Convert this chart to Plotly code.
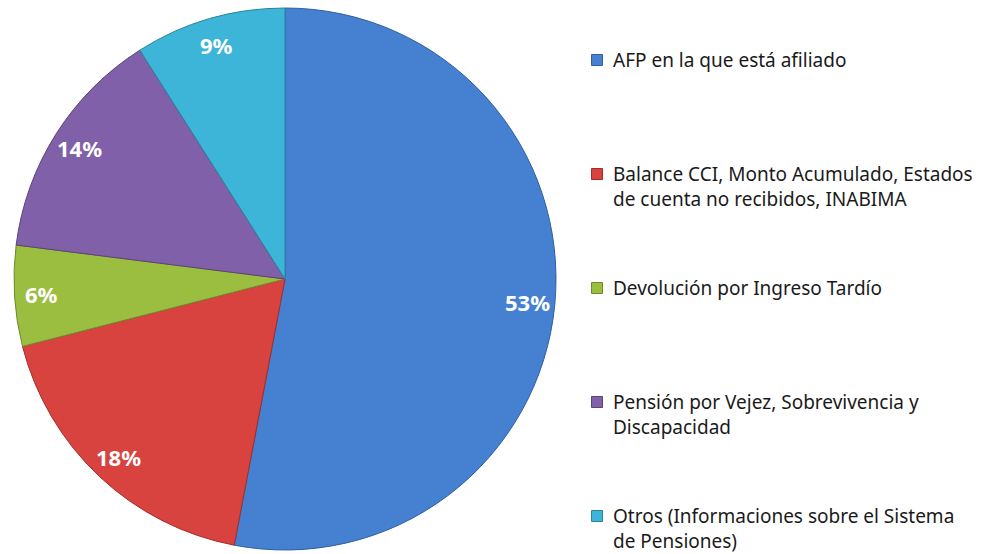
import plotly.graph_objects as go
import math

labels = ["AFP en la que está afiliado",
          "Balance CCI, Monto Acumulado, Estados<br>de cuenta no recibidos, INABIMA",
          "Devolución por Ingreso Tardío",
          "Pensión por Vejez, Sobrevivencia y<br>Discapacidad",
          "Otros (Informaciones sobre el Sistema<br>de Pensiones)"]
values = [53, 18, 6, 14, 9]
colors = ["#4581D0", "#D8433F", "#9BBE41", "#8060A8", "#3CB5D8"]
edge_colors = ["#2F5F9E", "#A02E2B", "#6F8A2C", "#5B4279", "#2A8399"]

W, H = 984, 554
# pie domain in pixels
dx0, dx1, dy0, dy1 = 13, 557, 8, 550
cx, cy = (dx0 + dx1) / 2, (dy0 + dy1) / 2
R = min(dx1 - dx0, dy1 - dy0) / 2

fig = go.Figure()
fig.add_trace(go.Pie(
    labels=labels, values=values, sort=False, direction="clockwise", rotation=0,
    marker=dict(colors=colors, line=dict(color=edge_colors, width=1)),
    textinfo="none", hoverinfo="label+percent", showlegend=False,
    domain=dict(x=[dx0 / W, dx1 / W], y=[1 - dy1 / H, 1 - dy0 / H]),
))

annotations = []
total = sum(values)
cum = 0
for v in values:
    mid = (cum + v / 2) / total * 2 * math.pi
    cum += v
    r = 0.9 * R
    px = cx + r * math.sin(mid)
    py = cy - r * math.cos(mid)
    annotations.append(dict(
        x=px / W, y=1 - py / H, xref="paper", yref="paper", showarrow=False,
        text=f"{round(v / total * 100)}%",
        font=dict(family="Noto Sans", size=22, color="white", weight="bold"),
        xanchor="center", yanchor="middle"))

# legend built from labels
shapes = []
y0, step, lh = 60, 114, 25
for i, (lab, col, ec) in enumerate(zip(labels, colors, edge_colors)):
    yy = y0 + i * step
    s = 11
    shapes.append(dict(type="rect", xref="paper", yref="paper",
                       x0=(597 - s / 2) / W, x1=(597 + s / 2) / W,
                       y0=1 - (yy + s / 2) / H, y1=1 - (yy - s / 2) / H,
                       fillcolor=col, line=dict(color=ec, width=1)))
    for j, line in enumerate(lab.split("<br>")):
        annotations.append(dict(
            x=611 / W, y=1 - (yy + j * lh) / H, xref="paper", yref="paper",
            showarrow=False, text=line, xanchor="left", yanchor="middle",
            font=dict(family="Noto Sans", size=19, color="#1a1a1a")))

fig.update_layout(
    width=W, height=H, margin=dict(l=0, r=0, t=0, b=0),
    paper_bgcolor="white", plot_bgcolor="white",
    annotations=annotations, shapes=shapes,
)
fig.write_html("out.html", config={"displayModeBar": False},
               post_script="document.body.style.margin='0';document.body.style.overflow='hidden';")
